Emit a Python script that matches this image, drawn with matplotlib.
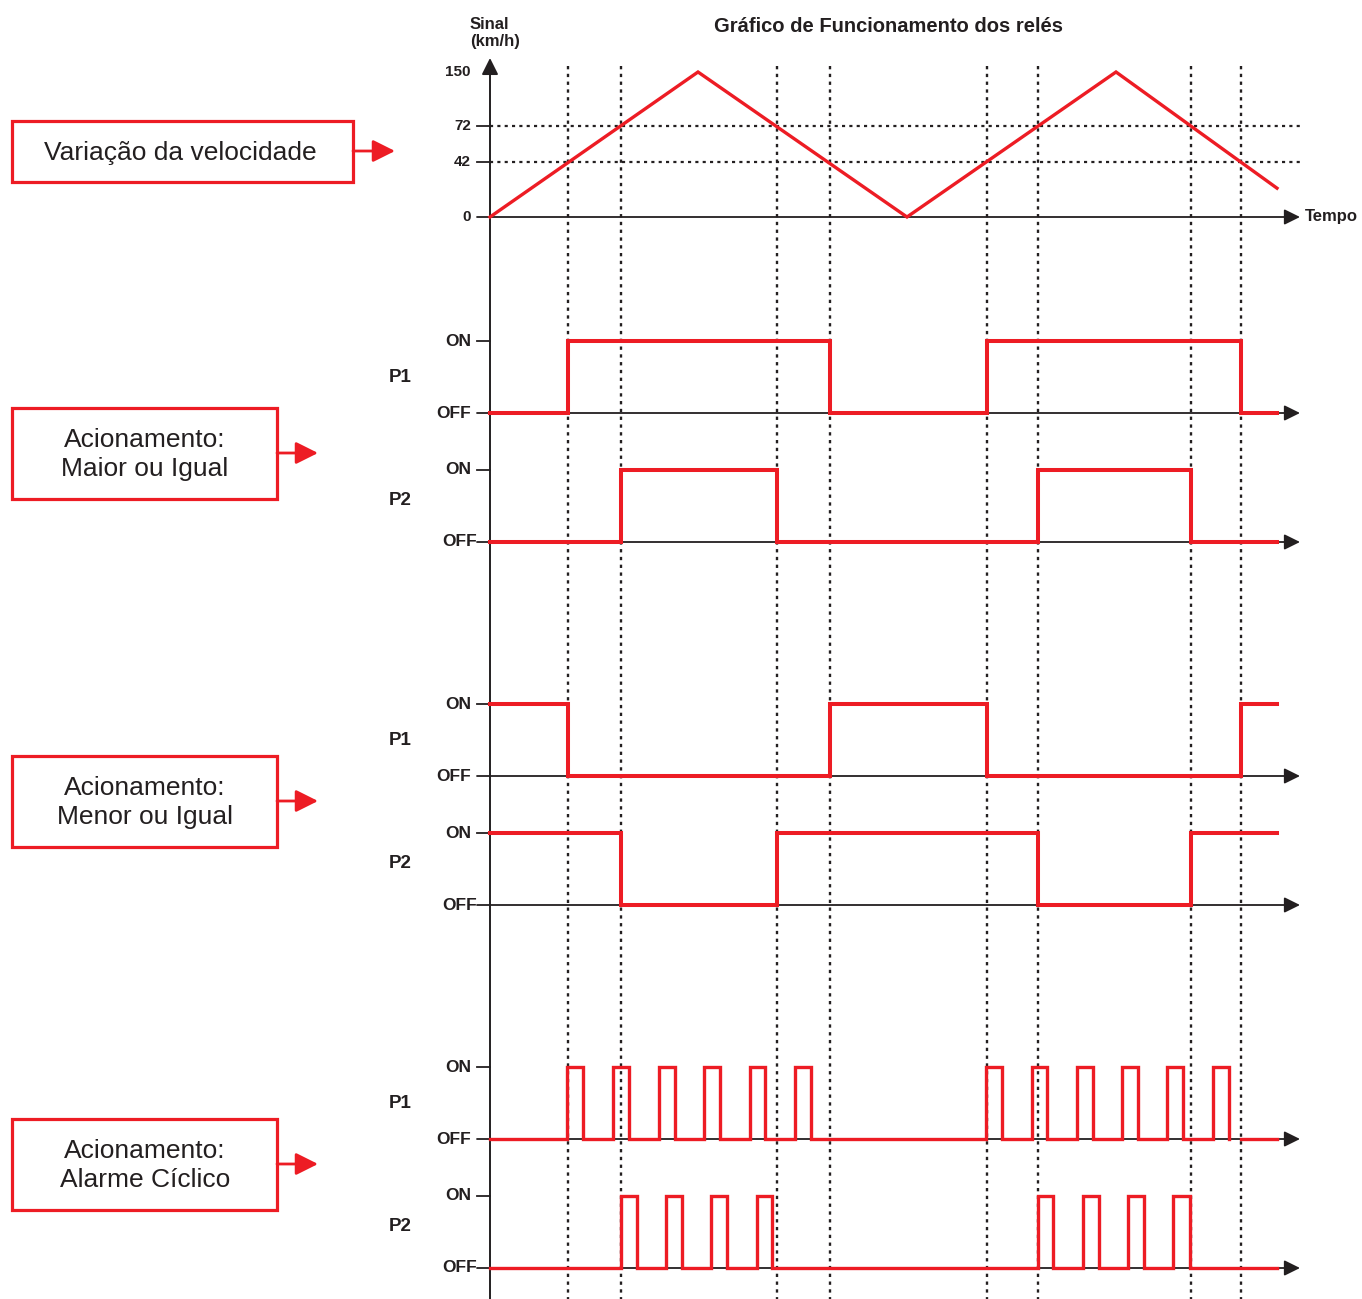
import numpy as np
import matplotlib
matplotlib.use('Agg')
import matplotlib.pyplot as plt
from matplotlib import transforms
from matplotlib.patches import Rectangle

plt.rcParams['font.family'] = ['Liberation Sans', 'DejaVu Sans']

# ---------------- data ----------------
title = 'Gráfico de Funcionamento dos relés'
y_axis_label = 'Sinal\n(km/h)'
x_axis_label = 'Tempo'
speed_ticks = [0, 42, 72, 150]
speed_tick_labels = ['0', '42', '72', '150']
threshold_levels = [42, 72]

# speed profile (time in arbitrary units)
time_vertices = [0, 208, 417, 626, 787]
speed_vertices = [0, 150, 0, 150, 22]

# instants where the speed crosses the thresholds
switch_times = [78, 131, 287, 340, 497, 548, 701, 751]
t_end = 787

state_labels = ['OFF', 'ON']
relay_names = ['P1', 'P2']
mode_labels = ['Variação da velocidade',
               'Acionamento:\nMaior ou Igual',
               'Acionamento:\nMenor ou Igual',
               'Acionamento:\nAlarme Cíclico']

maior_p1_times = [0, 78, 340, 497, 751, 787]
maior_p1_states = [0, 1, 0, 1, 0]
maior_p2_times = [0, 131, 287, 548, 701, 787]
maior_p2_states = [0, 1, 0, 1, 0]

menor_p1_times = [0, 78, 340, 497, 751, 787]
menor_p1_states = [1, 0, 1, 0, 1]
menor_p2_times = [0, 131, 287, 548, 701, 787]
menor_p2_states = [1, 0, 1, 0, 1]

ciclico_p1_on = [77, 123, 169, 214, 260, 305, 496, 542, 587, 632, 677, 723]
ciclico_p1_off = [93, 139, 185, 230, 275, 321, 512, 557, 603, 648, 693, 739]
ciclico_p1_gap = (739, 751)
ciclico_p2_on = [131, 176, 221, 267, 548, 593, 638, 683]
ciclico_p2_off = [147, 192, 237, 282, 563, 609, 654, 700]

# ---------------- style ----------------
W, H = 1362, 1299
RED = '#ED1C24'
BLK = '#231F20'
DOT = (0, (1.4, 1.9))

fig = plt.figure(figsize=(W / 100, H / 100), dpi=100, facecolor='white')

# layout axes in pixel coordinates
lay = fig.add_axes([0, 0, 1, 1])
lay.set_xlim(0, W)
lay.set_ylim(H, 0)
lay.axis('off')

XLIM = (-490, W - 490)


def panel(top, bottom):
    ax = fig.add_axes([0, 1 - bottom / H, 1, (bottom - top) / H])
    ax.set_xlim(*XLIM)
    ax.axis('off')
    ax.patch.set_alpha(0)
    return ax


def axis_arrow(ax, y):
    ax.annotate('', xy=(810, y), xytext=(-13, y), xycoords='data',
                arrowprops=dict(arrowstyle='-|>,head_length=0.95,head_width=0.47',
                                mutation_scale=10, color=BLK, lw=1.3,
                                shrinkA=0, shrinkB=0), annotation_clip=False)


# ---------------- speed panel ----------------
disp_in = [0, 42, 72, 150]
disp_out = [0, 56.9, 94.1, 150]


def fwd(v):
    return np.interp(v, disp_in, disp_out)


def inv(v):
    return np.interp(v, disp_out, disp_in)


sp = panel(72, 217)
sp.set_yscale('function', functions=(fwd, inv))
sp.set_ylim(0, 150)
axis_arrow(sp, 0)
for lvl in threshold_levels:
    sp.plot([0, 812], [lvl, lvl], color=BLK, lw=1.6, linestyle=DOT, clip_on=False)
    sp.plot([-13, 0], [lvl, lvl], color=BLK, lw=1.3, clip_on=False)
for v, lab in zip(speed_ticks, speed_tick_labels):
    sp.text(-19, v, lab, ha='right', va='center', fontsize=11, fontweight='bold', color=BLK)
sp.plot(time_vertices, speed_vertices, color=RED, lw=2.4, clip_on=False,
        solid_joinstyle='miter', zorder=5)
sp.text(815, 0, x_axis_label, ha='left', va='center', fontsize=12, fontweight='bold', color=BLK)

# y axis (spans every panel)
lay.annotate('', xy=(490, 58), xytext=(490, H + 5),
             arrowprops=dict(arrowstyle='-|>,head_length=1.0,head_width=0.5',
                             mutation_scale=10, color=BLK, lw=1.4,
                             shrinkA=0, shrinkB=0))
lay.text(470, 17, y_axis_label, ha='left', va='top', fontsize=12, fontweight='bold',
         color=BLK, linespacing=1.15)
lay.text(889, 26, title, ha='center', va='center', fontsize=14.5, fontweight='bold', color=BLK)

# vertical dotted guides at the switching instants
blend = transforms.blended_transform_factory(sp.transData, lay.transData)
for t in switch_times:
    lay.plot([t, t], [66, H], color=BLK, lw=1.7, linestyle=DOT, transform=blend, zorder=1)


# ---------------- relay panels ----------------
def relay_panel(top, bottom, name, off_x):
    ax = panel(top, bottom)
    ax.set_ylim(0, 1)
    axis_arrow(ax, 0)
    ax.plot([-13, 0], [1, 1], color=BLK, lw=1.3, clip_on=False)
    ax.text(-19, 1, state_labels[1], ha='right', va='center', fontsize=12.5,
            fontweight='bold', color=BLK)
    ax.text(off_x, 0, state_labels[0], ha='right', va='center', fontsize=12.5,
            fontweight='bold', color=BLK)
    ax.text(-90, 0.5 if name == 'P1' else 0.58, name, ha='center', va='center',
            fontsize=13.5, fontweight='bold', color=BLK)
    return ax


def draw_steps(ax, times, states):
    ax.plot(times, list(states) + [states[-1]], drawstyle='steps-post', color=RED,
            lw=2.9, clip_on=False, solid_joinstyle='miter', zorder=5)


def draw_pulses(ax, ons, offs, gap=None):
    xs, ys = [0], [0]
    for a, b in zip(ons, offs):
        xs += [a, a, b, b]
        ys += [0, 1, 1, 0]
    if gap is not None:
        xs += [gap[0], np.nan, gap[1]]
        ys += [0, np.nan, 0]
    xs.append(t_end)
    ys.append(0)
    ax.plot(xs, ys, color=RED, lw=2.4, clip_on=False, solid_joinstyle='miter', zorder=5)


rows = [(341, 413), (470, 542), (704, 776), (833, 905), (1067, 1139), (1196, 1268)]
axs = []
for i, (top, bot) in enumerate(rows):
    name = relay_names[i % 2]
    axs.append(relay_panel(top, bot, name, -19 if name == 'P1' else -13))

draw_steps(axs[0], maior_p1_times, maior_p1_states)
draw_steps(axs[1], maior_p2_times, maior_p2_states)
draw_steps(axs[2], menor_p1_times, menor_p1_states)
draw_steps(axs[3], menor_p2_times, menor_p2_states)
draw_pulses(axs[4], ciclico_p1_on, ciclico_p1_off, ciclico_p1_gap)
draw_pulses(axs[5], ciclico_p2_on, ciclico_p2_off)

# ---------------- mode boxes ----------------
boxes = [(12, 121, 353, 182, 151, 395, 180),
         (12, 408, 277, 499, 453, 318, 145),
         (12, 756, 277, 847, 801, 318, 145),
         (12, 1119, 277, 1210, 1164, 318, 145)]
for (x0, y0, x1, y1, ya, xa, xt), lab in zip(boxes, mode_labels):
    lay.add_patch(Rectangle((x0, y0), x1 - x0, y1 - y0, facecolor='white',
                            edgecolor=RED, lw=2.3))
    lay.text(xt, (y0 + y1) / 2 + 1, lab, ha='center', va='center', fontsize=19,
             color=BLK, linespacing=1.25)
    lay.annotate('', xy=(xa, ya), xytext=(x1, ya),
                 arrowprops=dict(arrowstyle='-|>,head_length=0.9,head_width=0.45',
                                 mutation_scale=15, color=RED, lw=2.0,
                                 shrinkA=0, shrinkB=0))

fig.savefig('out.png', dpi=100, facecolor='white')
